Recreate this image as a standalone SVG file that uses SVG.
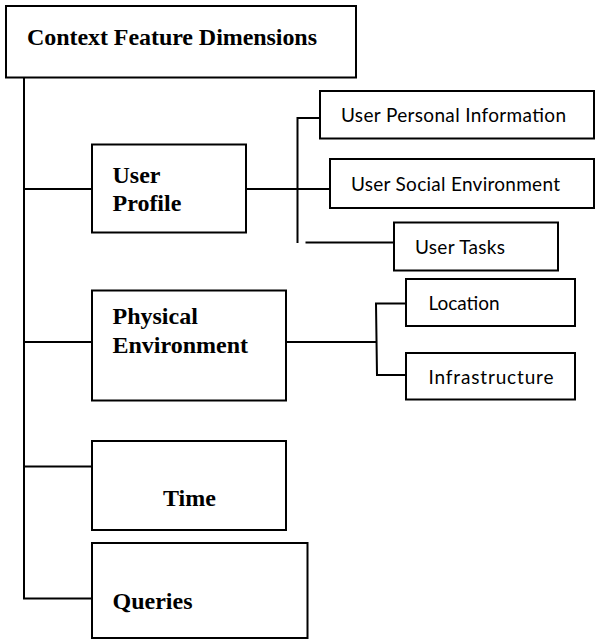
<svg xmlns="http://www.w3.org/2000/svg" width="595" height="639" viewBox="0 0 595 639">
  <style>
    .box { fill: #ffffff; stroke: #000000; stroke-width: 2; }
    .link { fill: none; stroke: #000000; stroke-width: 2; }
    .head { font-family: "Liberation Serif", "Times New Roman", serif; font-weight: bold; font-size: 24px; fill: #000000; }
    .leaf { font-family: "Lato", "Liberation Sans", sans-serif; font-size: 19px; fill: #000000; }
  </style>

  <rect width="595" height="639" fill="#ffffff"/>

  <!-- tree connectors -->
  <g id="connectors" class="link">
    <!-- main trunk and its branches -->
    <line x1="24" y1="77" x2="24" y2="598.5"/>
    <line x1="24" y1="189" x2="92" y2="189"/>
    <line x1="24" y1="342" x2="92" y2="342"/>
    <line x1="24" y1="466.5" x2="92" y2="466.5"/>
    <line x1="23" y1="598.5" x2="92" y2="598.5"/>
    <!-- user profile children -->
    <line x1="246" y1="189" x2="330" y2="189"/>
    <polyline points="320,118 297.5,118 297.5,243"/>
    <line x1="305.5" y1="242.5" x2="394" y2="242.5"/>
    <!-- physical environment children -->
    <line x1="286" y1="342" x2="376" y2="342"/>
    <polyline points="406,303.5 376,303.5 377,375 406,375"/>
  </g>

  <g id="root">
    <rect class="box" x="6" y="6" width="350" height="71.5"/>
    <text class="head" x="27" y="45" textLength="290">Context Feature Dimensions</text>
  </g>

  <g id="user-profile">
    <rect class="box" x="92" y="144.5" width="154" height="88"/>
    <text class="head" x="112.5" y="183">User</text>
    <text class="head" x="112.5" y="210.5">Profile</text>
  </g>

  <g id="user-personal-information">
    <rect class="box" x="320" y="91" width="274" height="47.5"/>
    <text class="leaf" x="341" y="121.5" textLength="225">User Personal Information</text>
  </g>

  <g id="user-social-environment">
    <rect class="box" x="330" y="159" width="264" height="49"/>
    <text class="leaf" x="351" y="190.5" textLength="209">User Social Environment</text>
  </g>

  <g id="user-tasks">
    <rect class="box" x="394" y="222.5" width="164" height="48"/>
    <text class="leaf" x="415" y="253.5" textLength="90">User Tasks</text>
  </g>

  <g id="physical-environment">
    <rect class="box" x="92" y="290.5" width="194" height="110"/>
    <text class="head" x="112.5" y="324">Physical</text>
    <text class="head" x="112.5" y="353">Environment</text>
  </g>

  <g id="location">
    <rect class="box" x="406" y="279" width="169" height="47"/>
    <text class="leaf" x="428.5" y="310" textLength="71">Location</text>
  </g>

  <g id="infrastructure">
    <rect class="box" x="406" y="353" width="169" height="46.5"/>
    <text class="leaf" x="428.5" y="383.5" textLength="125">Infrastructure</text>
  </g>

  <g id="time">
    <rect class="box" x="92" y="441" width="194" height="89"/>
    <text class="head" x="163" y="506">Time</text>
  </g>

  <g id="queries">
    <rect class="box" x="92" y="543" width="215.5" height="95"/>
    <text class="head" x="112.5" y="609">Queries</text>
  </g>
</svg>
